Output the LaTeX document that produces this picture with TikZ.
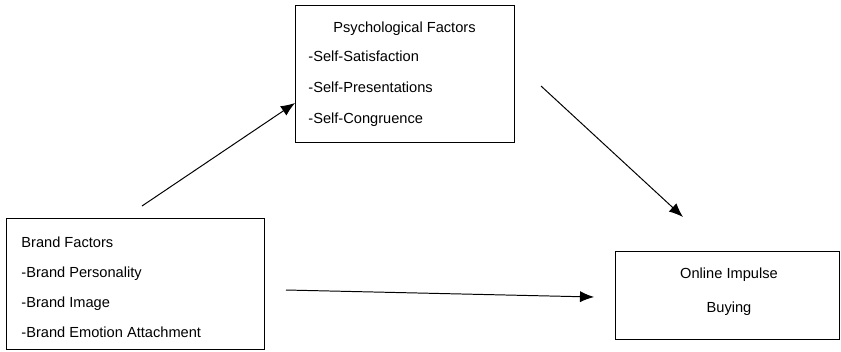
\documentclass[tikz,border=0pt]{standalone}
\usepackage{fontspec}
\setmainfont{Liberation Sans}
\usetikzlibrary{arrows.meta}

\tikzset{
    box/.style   ={draw, line width=.6pt},
    item/.style  ={anchor=west, inner sep=0pt, text height=7.5pt, text depth=0pt,
                   font=\fontsize{10.4}{12}\selectfont},
    label/.style ={item, anchor=center},
    link/.style  ={-{Latex[length=10pt,width=8pt]}, line width=.7pt},
}

\begin{document}
\begin{tikzpicture}[x=.025cm,y=-.025cm]
\useasboundingbox (0,0) rectangle (841,351);

\draw[box]
      (  6  ,218  ) rectangle +(258,131)
    ++( 15  , 24  ) node [item] (brand)    {Brand Factors}
    ++(  0  , 30  ) node [item] (persona)  {-Brand Personality}
    ++(  0  , 30  ) node [item] (image)    {-Brand Image}
    ++(  0  , 30  ) node [item] (emotion)  {-Brand Emotion Attachment};

\draw[box]
      (295  ,  5  ) rectangle +(219,137)
    ++(109.5, 22  ) node [label] (psych)     {Psychological Factors}
    ++(-96.5, 29  ) node [item] (satisfy)    {-Self-Satisfaction}
    ++(  0  , 31  ) node [item] (present)    {-Self-Presentations}
    ++(  0  , 31  ) node [item] (congruence) {-Self-Congruence};

\draw[box]
      (615  ,251  ) rectangle +(224.5,88)
    ++(114  , 22  ) node [label] (online) {Online Impulse}
    ++(  0  , 34  ) node [label] (buying) {Buying};

\coordinate (brand out)  at (142,206);
\coordinate (psych in)   at (295,103);
\coordinate (psych out)  at (541, 86);
\coordinate (online in)  at (683,217);
\coordinate (brand side) at (286,290);
\coordinate (online side) at (594,297);

\draw[link] (brand out)  -- (psych in);
\draw[link] (psych out)  -- (online in);
\draw[link] (brand side) -- (online side);
\end{tikzpicture}
\end{document}
